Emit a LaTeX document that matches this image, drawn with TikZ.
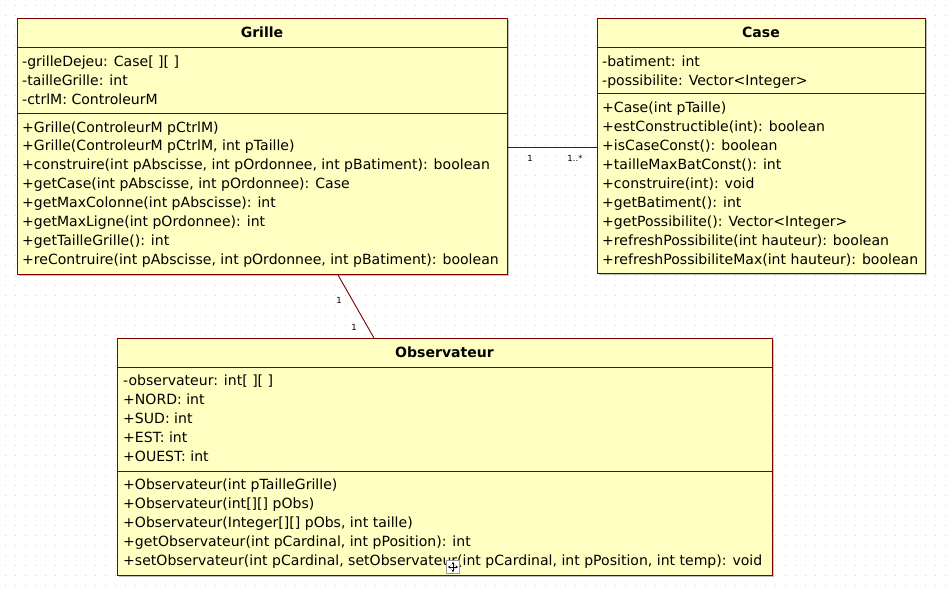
\documentclass[tikz,border=0pt]{standalone}
\usepackage{fontspec}
\setmainfont{DejaVu Sans}
\usetikzlibrary{arrows.meta}
\definecolor{umlfill}{RGB}{255,255,194}
\definecolor{umlline}{RGB}{128,0,0}
\definecolor{dotc}{RGB}{212,212,212}
\begin{document}
\begin{tikzpicture}[x=1pt,y=-1pt,
  classbox/.style={draw=umlline, fill=umlfill, line width=1pt, inner sep=0pt, anchor=north west},
  shadowbox/.style={fill=black!25, draw=none},
  txt/.style={anchor=base west, inner sep=0pt, font=\fontsize{14.05}{19}\selectfont, text=black},
  head/.style={anchor=base, inner sep=0pt, font=\fontsize{14.05}{19}\selectfont\bfseries, text=black},
  mult/.style={inner sep=0pt, font=\fontsize{8.5}{10}\selectfont, text=black},
  divider/.style={draw=umlline, line width=1pt},
  conn/.style={draw=umlline, line width=0.9pt}]
\useasboundingbox (0,0) rectangle (949,592);
\fill[white] (0,0) rectangle (949,592);
% dotted grid
\foreach \gx in {5,15,...,945}{
  \foreach \gy in {5,15,...,585}{
    \fill[dotc] (\gx,\gy) rectangle ++(1,1);
  }
}
% shadows
\fill[shadowbox] (19,20) rectangle (509,276);
\fill[shadowbox] (599,20) rectangle (927,275);
\fill[shadowbox] (119,340) rectangle (774,577);
% class boxes
\node[classbox, minimum width=490pt, minimum height=256pt] (grille) at (17,18) {};
\node[classbox, minimum width=328pt, minimum height=255pt] (case) at (597,18) {};
\node[classbox, minimum width=655pt, minimum height=237pt] (obs) at (117,338) {};
% dividers
\draw[divider] (grille.west |- 0,47) -- (grille.east |- 0,47);
\draw[divider] (grille.west |- 0,113) -- (grille.east |- 0,113);
\draw[divider] (case.west |- 0,47) -- (case.east |- 0,47);
\draw[divider] (case.west |- 0,93) -- (case.east |- 0,93);
\draw[divider] (obs.west |- 0,367) -- (obs.east |- 0,367);
\draw[divider] (obs.west |- 0,471) -- (obs.east |- 0,471);
% headers
\node[head] (grilleT) at (262,37) {Grille};
\node[head] (caseT) at (761,37) {Case};
\node[head] (obsT) at (444.5,357) {Observateur};
% Grille
\foreach \t [count=\i from 0] in {{-grilleDejeu: Case[ ][ ]},{-tailleGrille: int},{-ctrlM: ControleurM}}
  \node[txt] (ga\i) at (22,66+19*\i) {\t};
\foreach \t [count=\i from 0] in {{+Grille(ControleurM pCtrlM)},{+Grille(ControleurM pCtrlM, int pTaille)},{+construire(int pAbscisse, int pOrdonnee, int pBatiment): boolean},{+getCase(int pAbscisse, int pOrdonnee): Case},{+getMaxColonne(int pAbscisse): int},{+getMaxLigne(int pOrdonnee): int},{+getTailleGrille(): int},{+reContruire(int pAbscisse, int pOrdonnee, int pBatiment): boolean}}
  \node[txt] (gm\i) at (22,132+18.9*\i) {\t};
% Case
\foreach \t [count=\i from 0] in {{-batiment: int},{-possibilite: Vector<Integer>}}
  \node[txt] (ca\i) at (602,66+19*\i) {\t};
\foreach \t [count=\i from 0] in {{+Case(int pTaille)},{+estConstructible(int): boolean},{+isCaseConst(): boolean},{+tailleMaxBatConst(): int},{+construire(int): void},{+getBatiment(): int},{+getPossibilite(): Vector<Integer>},{+refreshPossibilite(int hauteur): boolean},{+refreshPossibiliteMax(int hauteur): boolean}}
  \node[txt] (cm\i) at (602,112+19*\i) {\t};
% Observateur
\foreach \t [count=\i from 0] in {{-observateur: int[ ][ ]},{+NORD: int},{+SUD: int},{+EST: int},{+OUEST: int}}
  \node[txt] (oa\i) at (123,385+19*\i) {\t};
\foreach \t [count=\i from 0] in {{+Observateur(int pTailleGrille)},{+Observateur(int[][] pObs)},{+Observateur(Integer[][] pObs, int taille)},{+getObservateur(int pCardinal, int pPosition): int},{+setObservateur(int pCardinal, setObservateur(int pCardinal, int pPosition, int temp): void}}
  \node[txt] (om\i) at (123,489+19*\i) {\t};
% connectors
\draw[conn] (grille.east |- 0,147) -- (case.west |- 0,147);
\node[mult] (m1) at (530,158) {1};
\node[mult] (m2) at (575,158) {1..*};
\draw[conn] (grille.south -| 338,0) -- (obs.north -| 374,0);
\node[mult] (m3) at (339,300) {1};
\node[mult] (m4) at (354,327) {1};
% cursor icon
\node[draw=black!40, fill=white, minimum size=13pt, inner sep=0pt] (cursor) at (453,567) {};
\draw[{Stealth[length=2.5pt,width=3pt]}-{Stealth[length=2.5pt,width=3pt]}, line width=0.8pt] ([xshift=-5pt]cursor.center) -- ([xshift=5pt]cursor.center);
\draw[{Stealth[length=2.5pt,width=3pt]}-{Stealth[length=2.5pt,width=3pt]}, line width=0.8pt] ([yshift=-5pt]cursor.center) -- ([yshift=5pt]cursor.center);
\end{tikzpicture}
\end{document}
